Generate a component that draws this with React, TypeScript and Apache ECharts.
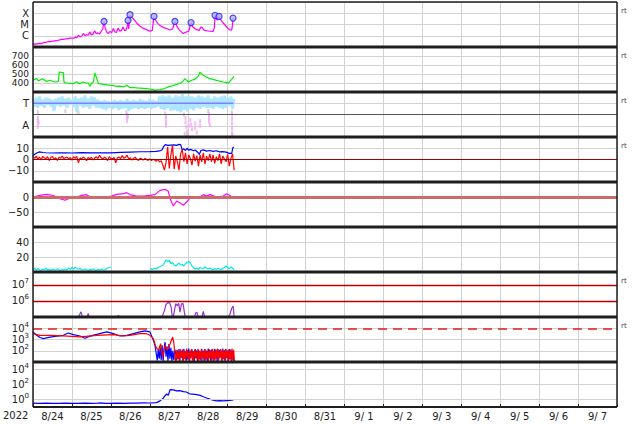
import React, { useEffect, useRef } from "react";
import * as echarts from "echarts";

// time axis: hours since 2022-08-24 00:00 (0..360)
const dayLabels = ["8/24","8/25","8/26","8/27","8/28","8/29","8/30","8/31","9/ 1","9/ 2","9/ 3","9/ 4","9/ 5","9/ 6","9/ 7"];

// Panel 1: GOES X-ray flux (W/m2)
const xray: number[][] = [
[0,1.8e-7],[1,1.9e-7],[2,1.8e-7],[3,2.0e-7],[4,2.1e-7],[5,2.0e-7],[6,2.3e-7],[7,2.6e-7],[8,2.5e-7],[9,2.9e-7],[10,3.2e-7],[11,3.0e-7],[12,3.4e-7],[13,3.3e-7],[14,3.8e-7],[15,3.6e-7],[16,4.2e-7],[17,4.5e-7],[18,5.0e-7],[19,4.8e-7],[20,5.4e-7],[21,5.2e-7],[22,5.9e-7],[23,6.1e-7],[24,6.3e-7],[25,6.0e-7],[26,7.5e-7],[27,6.8e-7],[28,1.1e-6],[29,8.5e-7],[30,9.0e-7],[31,1.6e-6],[32,1.0e-6],[33,1.3e-6],[34,1.1e-6],[35,2.2e-6],[36,1.2e-6],[37,1.4e-6],[38,2.8e-6],[39,1.5e-6],[40,1.8e-6],[41,1.4e-6],[42,2.4e-6],[43,4.0e-6],[43.8,1.86e-5],[44.5,5e-6],[45.5,2.0e-6],[46.5,1.6e-6],[47.5,2.5e-6],[48.5,1.8e-6],[49.5,4.5e-6],[50.5,2.2e-6],[51.5,2.0e-6],[52.5,5.0e-6],[53.5,2.5e-6],[54.5,3.0e-6],[55.5,6.0e-6],[56.5,2.8e-6],[57.5,3.5e-6],[58.2,8e-6],[58.6,2.3e-5],[59,4e-6],[59.8,7.4e-5],[60.5,5e-5],[62,3e-5],[64,1.3e-5],[66,7e-6],[68,4.5e-6],[70,3.5e-6],[72,2.5e-6],[73.5,3.0e-6],[74.6,5.2e-5],[75.5,2.5e-5],[77,1.2e-5],[79,7e-6],[81,5e-6],[83,4e-6],[84.5,3.2e-6],[86,4e-6],[87.5,1.86e-5],[88.5,8e-6],[90,3.5e-6],[91.5,2.2e-6],[92.5,1.6e-6],[94,2e-6],[96,2.5e-6],[97.4,1.5e-5],[98.5,6e-6],[100,4e-6],[101,3.5e-6],[102.5,3e-6],[103.5,6e-6],[104.5,5e-6],[105.5,3e-6],[107,2.8e-6],[109,2.5e-6],[111,2.4e-6],[111.8,5e-6],[112.2,6.6e-5],[113,3e-5],[113.8,2.5e-5],[114.7,5.2e-5],[115.5,3e-5],[117,1.5e-5],[119,7e-6],[121,3.5e-6],[122.5,3.2e-6],[123,1e-5],[123.3,3.7e-5]
];
const flares: number[][] = [[43.8,1.86e-5],[58.6,2.3e-5],[59.8,7.4e-5],[74.6,5.2e-5],[87.5,1.86e-5],[97.4,1.5e-5],[112.2,6.6e-5],[114.7,5.2e-5],[123.3,3.7e-5]];

// Panel 2: solar wind speed (km/s)
const speed: number[][] = [[0,430],[1,440],[2.3,448],[3.3,425],[4.3,432],[5.3,445],[6.4,441],[7.4,428],[8.4,418],[9.5,425],[10.5,430],[12,420],[13.6,411],[15.6,415],[16.2,522],[17.5,518],[18.7,515],[19.1,410],[20,402],[20.8,400],[22,395],[24.9,393],[26,405],[26.9,415],[28,398],[29,393],[30,405],[31,411],[32.5,400],[34.1,400],[35.1,363],[36,395],[37.2,411],[38.2,511],[39.3,448],[40.3,393],[42,390],[43.4,385],[45.5,380],[47.5,374],[49.5,372],[51.6,363],[53.5,365],[55.7,356],[57.8,374],[59.8,348],[62,350],[63.9,345],[66,343],[68,341],[70,338],[72.1,333],[73.5,330],[75.2,318],[76.5,325],[78.3,328],[80.3,334],[82.5,350],[84.5,363],[86.5,372],[88.6,385],[90,395],[91.6,404],[93.7,448],[94.7,430],[95.8,411],[97.8,430],[99.5,440],[100.9,459],[102,480],[102.9,519],[104,500],[105,485],[107,465],[109.1,448],[111,440],[113.2,430],[115,420],[117.3,411],[119,405],[120.4,400],[121.5,420],[122.5,440],[123.9,474]];

// Panel 3: IMF sector (T = 3, A = 1), hourly from 0 h
const sectorT: number[] = [3.4,2.7,3.5,2.6,3.6,2.8,3.3,2.6,3.5,2.9,3.4,2.7,3.3,2.3,3.4,2.8,3.5,2.7,3.6,2.8,3.4,2.6,3.5,2.9,3.3,2.7,3.6,2.2,3.4,2.8,3.5,2.6,3.7,2.7,3.4,2.5,3.6,2.8,3.5,2.6,3.3,2.6,3.2,2.5,3.3,2.4,3.2,2.6,3.1,2.5,3.3,2.6,3.2,2.4,3.3,2.5,3.2,2.6,3.4,2.3,3.2,2.5,3.3,2.6,3.2,2.5,3.4,2.6,3.3,2.5,3.2,2.6,3.4,2.5,3.3,2.6,3.2,2.7,3.6,2.5,3.7,2.4,3.6,2.6,3.7,2.3,3.5,2.4,3.7,2.3,3.6,2.2,3.8,2.4,3.6,2.3,3.7,2.5,3.6,2.4,3.5,2.6,3.7,2.5,3.6,2.7,3.5,2.6,3.7,2.6,3.4,2.5,3.6,2.7,3.5,2.6,3.6,2.5,3.7,2.6,3.5,2.8,3.6,2.5,3.4];
const sectorRef: number[][] = [[0,3],[123.5,3]];
const pinkPts: number[][] = [[3,1.7],[3,1.5],[3,1.2],[3,0.9],[3.5,1.3],[58,2.0],[58,1.7],[58,1.4],[58.5,1.8],[82,1.8],[82,1.6],[82,1.3],[82,1.0],[94,1.7],[94,1.3],[94.5,0.9],[95,0.5],[95,0.2],[96,1.0],[97,1.5],[97.5,1.1],[98,0.7],[100,1.2],[100,0.8],[101,0.4],[103,1.4],[103,1.0],[108.5,2.0],[108.5,1.7],[108.5,1.4],[109,1.1],[122.7,2.0],[122.7,1.6],[122.7,1.2],[122.7,0.8],[122.7,0.4],[122.7,0.1]];
const grayPts: number[][] = [[3,2.2],[20,2.3],[28,2.2],[57.5,2.2],[81.5,2.1],[93,2.0],[93.5,0.3],[95.5,0.1],[108,2.3],[122.5,2.2],[123,0.2]];

// Panel 4: IMF Bt (blue) and Bz (red, hourly from 0 h), nT
const bt: number[][] = [[0,3.5],[2,5.5],[4,6.8],[6,6.2],[8,6.0],[12,5.8],[16,5.9],[20,6.0],[24,5.8],[30,6.1],[36,5.9],[40,6.0],[48,5.9],[54,6.3],[60,6.6],[66,6.9],[72,7.0],[76,7.2],[78,7.6],[79.5,8.5],[80.5,11.5],[81.5,13.2],[83,12.5],[85,12.8],[87,13.0],[88.5,12.6],[90,13.4],[91,13.2],[92,8.5],[93,9.5],[94,8.0],[95,10.0],[96,8.2],[97,9.0],[99,7.8],[100,8.5],[101.5,6.5],[102.5,4.5],[103.5,8.0],[105,8.5],[107,7.5],[109,8.0],[111,7.2],[113,7.8],[115,6.8],[117,7.0],[119,6.5],[121,5.5],[122.5,5.5],[123.2,10.5],[123.8,11]];
const bz: number[] = [2.5,1.0,3.0,0.5,2.2,-0.5,2.8,1.5,0.8,2.5,-1.0,1.8,2.6,0.2,1.5,-0.8,2.0,1.2,3.0,0.8,1.5,2.2,0.5,1.8,-0.5,2.5,1.0,2.8,-3.0,1.5,0.5,2.2,1.0,-1.0,1.8,0.6,2.0,-0.5,1.2,2.5,0.8,3.8,1.5,0.2,2.0,1.2,-1.0,2.5,1.0,0.5,1.8,-3.0,1.5,2.2,0.8,3.5,1.0,2.0,3.8,0.5,1.5,-0.5,1.2,2.0,0.2,-0.8,1.0,0.5,-0.5,1.0,0.0,-0.8,0.5,-1.0,0.2,-0.5,-1.5,0.0,-2.2,-1.0,-5.0,-9.5,-3.0,11.0,-8.0,4.0,12.5,-8.5,3.0,-2.0,-9.5,5.0,9.0,-2.0,6.0,-4.0,4.0,1.0,-5.0,5.0,-1.5,3.5,-6.0,4.0,-2.0,6.0,-4.0,3.0,-1.0,5.0,-2.0,4.0,-3.5,2.5,-1.0,5.0,-4.0,3.0,0.5,-2.0,4.5,-6.0,1.0,5.0,-9.5];

// Panel 5: Dst (nT)
const dst: number[][] = [[0,0],[4.3,5.6],[8.4,8.9],[12.5,5],[16.6,-5.6],[19.7,-11],[22.8,-3],[26.9,0],[30,5.6],[33.1,7.8],[36.2,-3],[39.3,0],[43.4,-1],[48.5,3],[51.6,8.9],[55.7,11],[57.8,14.4],[59.8,8],[63.9,3],[68,3],[72.1,5.6],[75.2,8],[78.3,22],[81.4,25.5],[83.4,19],[84.5,-5.6],[86.5,-30],[88.6,-14],[90.6,-19],[92.7,-28],[94.7,-16.7],[96.8,-3],[100.9,-3],[102.9,0],[105,7.8],[107,3],[109.1,7.8],[113.2,0],[117.3,3],[119.4,11],[121.4,5],[123.5,-5.6]];

// Panel 6: cyan index
const cyanIdx: (number | null)[][] = [[0,3],[1,5],[2,2.5],[3,4.5],[4,3],[5,2],[6,4],[7,3],[8,5],[9,2.5],[10,3.5],[11,2],[12,4],[13,3],[14,2.5],[15,4.5],[16,3],[17,2],[18,3.5],[19,2.5],[20,4],[21,3],[22,5],[23,3.5],[24,6],[25,4],[26,6.5],[27,5],[28,3.5],[29,5],[30,3],[31,2.5],[32,4],[33,3],[34,2],[35,3.5],[36,2.5],[37,4],[38,3],[39,2],[40,3.5],[41,2.5],[42,4],[43,3],[44,2.5],[45,4],[46,5],[47,6],[48,6.5],[60,null],[72,3],[73,4.5],[74,3.5],[75,5],[76,4],[77,6],[78,7],[79,8],[80,9],[81,12],[82,16],[83,14],[84,15.5],[85,11],[86,13],[87,9],[88,8],[89,10],[90,12],[91,9],[92,10],[93,8],[94,11],[95,13],[96,14],[97,12],[98,8],[99,6],[100,4],[101,5],[102,3.5],[103,6],[104,5],[105,4.5],[106,7],[107,5],[108,4],[109,5.5],[110,4],[111,3],[112,4.5],[113,3.5],[114,5],[115,4],[116,3],[117,5],[118,6],[119,8],[120,6],[121,4],[122,7],[123,5],[124,3]];

// Panel 7: purple (log)
const purple: number[][] = [[0,1.0e5],[28,1.0e5],[29,1.6e5],[29.6,2.1e5],[30.2,1.2e5],[31,1.0e5],[33.5,1.05e5],[34,1.7e5],[34.6,1.0e5],[52,1.0e5],[52.6,1.25e5],[53.2,1.0e5],[79,1.0e5],[80,1.3e5],[81,2.5e5],[82,6e5],[83,7.8e5],[84.3,7.5e5],[85.2,4e5],[85.8,1.2e5],[86.5,1.05e5],[87.3,3e5],[88,6.8e5],[89,5e5],[89.8,7.2e5],[90.6,2e5],[91.5,6.5e5],[92.5,6.8e5],[93.3,2e5],[93.8,1.05e5],[99.5,1.0e5],[100.3,1.8e5],[101,2e5],[101.7,1.05e5],[104.2,1.1e5],[105,2.2e5],[105.7,1.05e5],[120.5,1.0e5],[121.5,1.6e5],[122.5,3.5e5],[123.4,4.8e5],[124,1.0e5]];

// Panel 8: blue / red (log)
const blueA: number[][] = [[0,4700],[2.3,2400],[4.3,1500],[6.4,1200],[8.4,1400],[10.5,1650],[14.6,2000],[18.7,2350],[21.7,3800],[24.9,2700],[29,2050],[32,1300],[35.1,2000],[39.3,2900],[45.5,4700],[49.5,3300],[53.6,2050],[57.8,2350],[61.9,3300],[66,4700],[69.1,5800],[72.1,4700],[73.8,1200],[75.2,300],[76.6,14],[77.2,120],[77.8,20],[78.4,200],[79,15],[79.6,300],[80.2,12],[80.8,150],[81.4,600],[82,30],[82.6,250],[83.2,12],[83.8,400],[84.4,20],[85,180],[85.6,12],[86.2,100],[86.8,15],[87.4,130]];
const blueBand: number[] = [60,14,110,18,140,12,95,25,130,11,150,20,85,13,120,16,160,11,100,28,135,14,90,12,145,22,110,11,125,18,80,13,150,26,100,12,140,17,95,11,160,24,115,13,130,19,85,12,150,21,105,11,140,16,120,25,90,12,155,18,110,13,135,22,100,11,145,17,125,12,95,20,11];
const redA: number[][] = [[0,3300],[4.3,2350],[10.5,2350],[18.7,2100],[29,1700],[39.3,2350],[49.5,2700],[55.7,2050],[59.8,2350],[66,3300],[70,3300],[72.1,2350],[74.2,1180],[75.8,215],[77.3,110],[78.7,420],[79.9,24],[81.4,300],[82.8,110],[84.5,420],[86.1,1650],[86.9,420],[87.7,14]];
const redBand: number[] = [15,120,20,90,12,150,25,80,11,130,18,100,13,160,30,70,12,110,22,140,14,95,11,125,28,85,16,150,12,100,20,130,11,90,24,145,13,115,19,80,12,135,26,105,11,150,17,90,14,125,22,160,12,100,30,140,11,120,18,85,13,150,25,110,12,130,20,95,11,160,15,120,11];

// Panel 9: blue (log)
const protonHi: number[][] = [[0,0.32],[4,0.3],[8,0.33],[12,0.31],[16,0.3],[20,0.32],[24,0.3],[28,0.31],[32,0.33],[36,0.3],[40,0.32],[42,0.36],[44,0.31],[48,0.3],[52,0.32],[56,0.31],[60,0.33],[64,0.32],[68,0.35],[72,0.34],[76.2,0.38],[78.3,0.66],[80.3,1.5],[81.4,3.2],[82.4,5.4],[83.4,3.5],[84.5,21],[86.5,19],[88.6,14],[90.5,15],[92.7,11],[94.5,10],[96.8,5.4],[98.5,5.2],[100.9,4.5],[103,3.5],[105,2.3],[107,1.6],[109.1,1.1],[111,0.8],[113.2,0.66],[115,0.7],[117.3,0.66],[119,0.72],[121.4,0.75],[123.5,0.9]];

const FONT = "DejaVu Sans";
const lg = (arr: number[][]) => arr.map(([h, v]) => [h, Math.log10(v)]);
const sup = (e: string) => `{b|10}{s|${e}}`;
const richSup = {
  b: { fontSize: 10, color: "#222", fontFamily: FONT, verticalAlign: "bottom", lineHeight: 10 },
  s: { fontSize: 7, color: "#222", fontFamily: FONT, verticalAlign: "bottom", lineHeight: 7, padding: [0, 0, 5, 0] },
};

export default function App() {
  const ref = useRef<HTMLDivElement>(null);
  useEffect(() => {
    if (!ref.current) return;
    const chart = echarts.init(ref.current, undefined, { renderer: "svg" });
    const L = 33, R = 617, TOP = 2, H = 45;
    const grids = Array.from({ length: 9 }, (_, i) => ({ left: L, right: 634 - R, top: TOP + H * i, height: H, show: false }));
    const xAxes: any[] = grids.map((_, i) => ({
      type: "value", gridIndex: i, min: 0, max: 360, interval: 24,
      axisLabel: { show: false }, axisLine: { show: false }, axisTick: { show: false },
      splitLine: { show: true, lineStyle: { color: "#d2d2d2", width: 1 } },
    }));
    xAxes.push({
      type: "category", gridIndex: 8, data: dayLabels, boundaryGap: true, position: "bottom",
      axisLine: { show: false }, splitLine: { show: false },
      axisTick: { show: true, inside: true, length: 3, lineStyle: { color: "#222" } },
      axisLabel: { fontSize: 10, color: "#222", fontFamily: FONT, margin: 4 },
    });
    const yAx = (i: number, min: number, max: number, interval: number, fmt: (v: number) => string, split = true, rich?: any, fontSize = 10) => ({
      type: "value", gridIndex: i, min, max, interval,
      axisLine: { show: false }, axisTick: { show: false },
      splitLine: { show: split, lineStyle: { color: "#d2d2d2", width: 1 } },
      axisLabel: { formatter: fmt, fontSize, color: "#222", fontFamily: FONT, margin: 4, rich, lineHeight: fontSize },
    });
    const pick = (m: Record<string, string>) => (v: number) => m[String(Math.round(v * 100) / 100)] ?? "";
    const yAxes = [
      yAx(0, -7, -3, 1, pick({ "-4": "X", "-5": "M", "-6": "C" })),
      yAx(1, 300, 800, 100, pick({ "400": "400", "500": "500", "600": "600", "700": "700" }), true, undefined, 9),
      yAx(2, 0, 4, 1, pick({ "3": "T", "1": "A" })),
      yAx(3, -20, 20, 10, pick({ "10": "10", "0": "0", "-10": "\u221210" })),
      yAx(4, -100, 50, 50, pick({ "0": "0", "-50": "\u221250" })),
      yAx(5, 0, 60, 20, pick({ "20": "20", "40": "40" })),
      yAx(6, 5, 7.8, 1, pick({ "6": sup("6"), "7": sup("7") }), true, richSup),
      yAx(7, 1, 5, 1, pick({ "2": sup("2"), "3": sup("3"), "4": sup("4") }), true, richSup),
      yAx(8, -1, 5, 1, pick({ "0": sup("0"), "2": sup("2"), "4": sup("4") }), false, richSup),
    ];
    const ml = (vals: number[], color: string, width: number, type: any = "solid") => ({
      silent: true, symbol: "none", label: { show: false },
      lineStyle: { color, width, type, opacity: 1 },
      emphasis: { disabled: true },
      data: vals.map((v) => ({ yAxis: v })),
    });
    const line = (i: number, data: any[], color: string, extra: any = {}) => ({
      type: "line", xAxisIndex: i, yAxisIndex: i, data, showSymbol: false, symbol: "none",
      lineStyle: { color, width: 1.2 }, itemStyle: { color }, connectNulls: false, clip: true, ...extra,
    });
    const series: any[] = [
      line(0, lg(xray), "#ff00ff"),
      {
        type: "scatter", xAxisIndex: 0, yAxisIndex: 0, data: lg(flares), symbol: "circle", symbolSize: 6, z: 5,
        itemStyle: { color: "#b4b4ff", borderColor: "#1c1cff", borderWidth: 1.2 },
      },
      line(1, speed, "#00ee00"),
      {
        type: "scatter", xAxisIndex: 2, yAxisIndex: 2, data: grayPts, symbol: "rect", symbolSize: [2, 4],
        itemStyle: { color: "#c8c8c8" },
      },
      {
        type: "scatter", xAxisIndex: 2, yAxisIndex: 2, data: pinkPts, symbol: "rect", symbolSize: [2, 4],
        itemStyle: { color: "#f4a8f4" },
      },
      line(2, sectorT.map((v, i) => [i, v]), "#aee6ff", { lineStyle: { color: "#aee6ff", width: 2.8 }, markLine: ml([2], "#555", 1) }),
      line(2, sectorRef, "#8080ff", { lineStyle: { color: "#8080ff", width: 1.5 } }),
      line(3, bt, "#0000ff"),
      line(3, bz.map((v, i) => [i, v]), "#ff0000", { markLine: ml([0], "#a00000", 1) }),
      line(4, dst, "#ff00ff", { z: 3, markLine: ml([0], "#cd6b6b", 3) }),
      line(5, cyanIdx, "#00e8e8"),
      line(6, lg(purple), "#9932cc", { markLine: ml([6, 7], "#c00000", 1.3) }),
      line(7, lg([...blueA, ...blueBand.map((v, i) => [88 + 0.5 * i, v])]), "#0000ff", { markLine: ml([4], "#e02020", 1.5, [9, 6]) }),
      line(7, lg([...redA, ...redBand.map((v, i) => [88.2 + 0.5 * i, v])]), "#ff0000"),
      line(8, lg(protonHi), "#0000ff", { markLine: ml([0, 2, 4], "#d2d2d2", 1) }),
    ];
    const graphic: any[] = [];
    for (let i = 1; i < 9; i++) {
      const y = TOP + H * i;
      graphic.push({ type: "line", shape: { x1: L, y1: y, x2: R, y2: y }, style: { stroke: "#1e1e1e", lineWidth: 3 }, z: 100 });
    }
    graphic.push({ type: "line", shape: { x1: L, y1: TOP, x2: R, y2: TOP }, style: { stroke: "#1e1e1e", lineWidth: 1.5 }, z: 100 });
    graphic.push({ type: "line", shape: { x1: L, y1: TOP + 9 * H, x2: R, y2: TOP + 9 * H }, style: { stroke: "#1e1e1e", lineWidth: 2 }, z: 100 });
    graphic.push({ type: "line", shape: { x1: L, y1: TOP, x2: L, y2: TOP + 9 * H }, style: { stroke: "#1e1e1e", lineWidth: 1.5 }, z: 100 });
    graphic.push({ type: "line", shape: { x1: R, y1: TOP, x2: R, y2: TOP + 9 * H }, style: { stroke: "#1e1e1e", lineWidth: 1.5 }, z: 100 });
    [0, 1, 2, 3, 6, 7].forEach((i) => {
      graphic.push({ type: "text", x: 621, y: TOP + H * i + 9, style: { text: "rt", fontSize: 7, fill: "#444", fontFamily: FONT, verticalAlign: "middle" }, z: 100 });
    });
    graphic.push({ type: "text", x: 3, y: 415, style: { text: "2022", fontSize: 10, fill: "#222", fontFamily: FONT, verticalAlign: "middle" }, z: 100 });

    chart.setOption({
      animation: false,
      backgroundColor: "#ffffff",
      textStyle: { fontFamily: FONT },
      grid: grids,
      xAxis: xAxes,
      yAxis: yAxes,
      series,
      graphic,
    });
    return () => chart.dispose();
  }, []);
  return <div ref={ref} style={{ width: 634, height: 424, position: "absolute", left: 0, top: 0 }} />;
}
